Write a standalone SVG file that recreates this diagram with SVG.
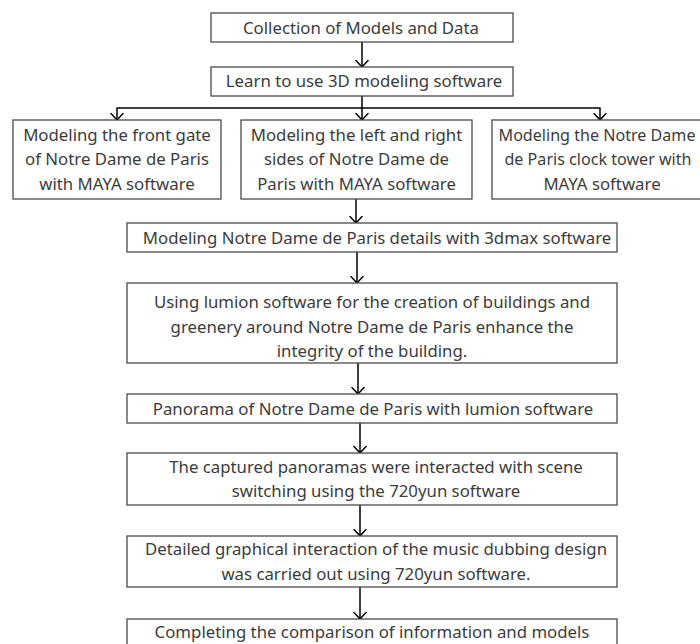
<svg xmlns="http://www.w3.org/2000/svg" width="700" height="644" viewBox="0 0 700 644">
<defs>
<style>
.box{fill:#fff;stroke:#4a4a4a;stroke-width:1.3}
.t{font-family:"Noto Sans","Liberation Sans",sans-serif;font-size:16.8px;fill:#3c3c3c;text-anchor:middle}
.n{font-size:16.1px}
.c{stroke:#000;stroke-width:1.5;fill:none}
</style>
<marker id="ah" viewBox="0 0 8 14" refX="7" refY="7" markerWidth="8" markerHeight="14" markerUnits="userSpaceOnUse" orient="auto">
<path d="M0,0.5 L7,7 L0,13.5" fill="none" stroke="#000" stroke-width="1.5"/>
</marker>
</defs>
<rect width="700" height="644" fill="#fff"/>
<g id="connectors">
<line class="c" x1="362" y1="42" x2="362" y2="67" marker-end="url(#ah)"/>
<line class="c" x1="362" y1="96" x2="362" y2="120" marker-end="url(#ah)"/>
<line class="c" x1="116.5" y1="108" x2="600.5" y2="108"/>
<line class="c" x1="117" y1="108" x2="117" y2="120" marker-end="url(#ah)"/>
<line class="c" x1="600" y1="108" x2="600" y2="120" marker-end="url(#ah)"/>
<line class="c" x1="356" y1="199" x2="356" y2="223" marker-end="url(#ah)"/>
<line class="c" x1="357" y1="252" x2="357" y2="283" marker-end="url(#ah)"/>
<line class="c" x1="358" y1="363" x2="358" y2="394" marker-end="url(#ah)"/>
<line class="c" x1="360" y1="423" x2="360" y2="453" marker-end="url(#ah)"/>
<line class="c" x1="360" y1="505" x2="360" y2="536" marker-end="url(#ah)"/>
<line class="c" x1="360" y1="587" x2="360" y2="619" marker-end="url(#ah)"/>
</g>
<g id="n1"><rect class="box" x="211" y="13" width="302" height="29"/><text class="t" x="361" y="33.8">Collection of Models and Data</text></g>
<g id="n2"><rect class="box" x="211" y="67" width="302" height="29"/><text class="t" x="364" y="87.3">Learn to use 3D modeling software</text></g>
<g id="nA"><rect class="box" x="13" y="120" width="208" height="79"/>
<text class="t" x="117" y="140.8">Modeling the front gate</text>
<text class="t" x="117" y="165.3">of Notre Dame de Paris</text>
<text class="t" x="117" y="189.8">with MAYA software</text></g>
<g id="nB"><rect class="box" x="241" y="120" width="231" height="79"/>
<text class="t" x="356.5" y="140.8">Modeling the left and right</text>
<text class="t" x="356.5" y="165.3">sides of Notre Dame de</text>
<text class="t" x="356.5" y="189.8">Paris with MAYA software</text></g>
<g id="nC"><rect class="box" x="492" y="120" width="220" height="79"/>
<text class="t n" x="597" y="140.6">Modeling the Notre Dame</text>
<text class="t n" x="598" y="165.1">de Paris clock tower with</text>
<text class="t" x="602" y="189.8">MAYA software</text></g>
<g id="nD"><rect class="box" x="127" y="223" width="490" height="29"/><text class="t" x="377" y="243.8">Modeling Notre Dame de Paris details with 3dmax software</text></g>
<g id="nE"><rect class="box" x="127" y="283" width="490" height="80"/>
<text class="t" x="372" y="308.3">Using lumion software for the creation of buildings and</text>
<text class="t" x="372" y="332.8">greenery around Notre Dame de Paris enhance the</text>
<text class="t" x="372" y="357.3">integrity of the building.</text></g>
<g id="nF"><rect class="box" x="127" y="394" width="490" height="29"/><text class="t" x="373" y="414.8">Panorama of Notre Dame de Paris with lumion software</text></g>
<g id="nG"><rect class="box" x="127" y="453" width="490" height="52"/>
<text class="t" x="376" y="472.8">The captured panoramas were interacted with scene</text>
<text class="t" x="376" y="497.3">switching using the 720yun software</text></g>
<g id="nH"><rect class="box" x="127" y="536" width="490" height="51"/>
<text class="t" x="376" y="554.8">Detailed graphical interaction of the music dubbing design</text>
<text class="t" x="376" y="579.8">was carried out using 720yun software.</text></g>
<g id="nI"><rect class="box" x="127" y="619" width="490" height="40"/><text class="t" x="372" y="637.8">Completing the comparison of information and models</text></g>
</svg>
